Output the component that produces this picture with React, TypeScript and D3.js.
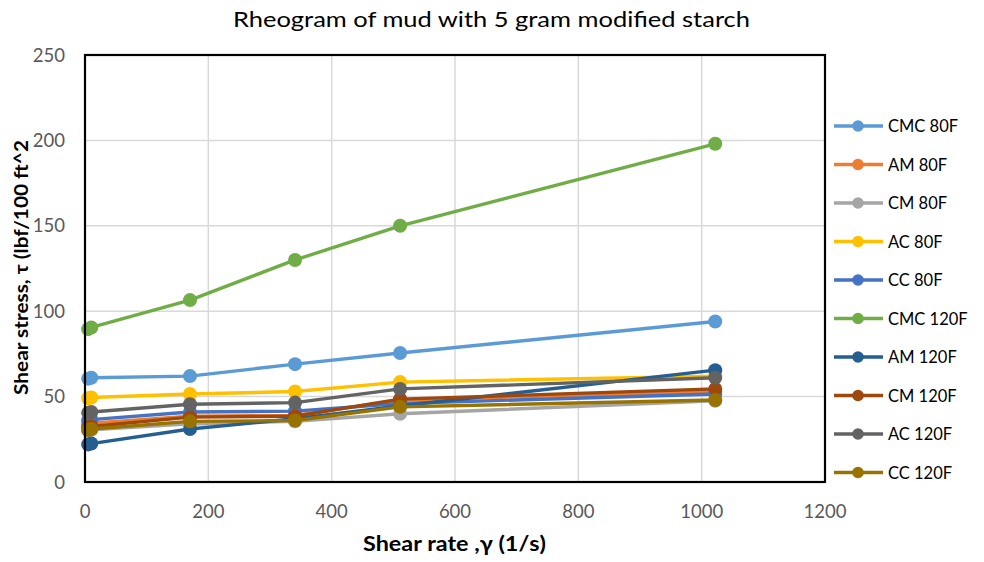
import React from "react";
import * as d3 from "d3";

const shearRates = [5.1, 10.2, 170.3, 340.6, 511, 1022];
const seriesNames = ["CMC 80F", "AM 80F", "CM 80F", "AC 80F", "CC 80F", "CMC 120F", "AM 120F", "CM 120F", "AC 120F", "CC 120F"];
const seriesColors = ["#5B9BD5", "#ED7D31", "#A5A5A5", "#FFC000", "#4472C4", "#70AD47", "#255E91", "#9E480E", "#636363", "#997300"];
const cmc80 = [60.5, 61, 62, 69, 75.5, 94];
const am80 = [34, 34.5, 38.5, 39, 48, 53];
const cm80 = [30, 30.5, 34, 35.5, 40, 47.5];
const ac80 = [49, 49.5, 51.5, 53, 58.5, 62];
const cc80 = [36, 36.5, 41, 41.5, 46, 51.5];
const cmc120 = [89.5, 90.5, 106.5, 130, 150, 198];
const am120 = [22, 22.5, 31, 37, 44.5, 65.5];
const cm120 = [32, 32.5, 38, 38.5, 48.5, 54.5];
const ac120 = [40.5, 41, 45.5, 46.5, 54.5, 61];
const cc120 = [30.5, 31, 35.5, 36, 44, 48];
const seriesValues = [cmc80, am80, cm80, ac80, cc80, cmc120, am120, cm120, ac120, cc120];
const xTicks = [0, 200, 400, 600, 800, 1000, 1200];
const yTicks = [0, 50, 100, 150, 200, 250];

const FONT = "Lato, 'Open Sans', sans-serif";

export default function App() {
  const W = 984, H = 562;
  const left = 85, right = 825, top = 55, bottom = 482;
  const x = d3.scaleLinear().domain([0, 1200]).range([left, right]);
  const y = d3.scaleLinear().domain([0, 250]).range([bottom, top]);
  const line = d3.line<[number, number]>().x(d => x(d[0])).y(d => y(d[1]));

  return (
    <svg width={W} height={H} style={{ position: "absolute", left: 0, top: 0, background: "#fff" }}>
      <rect x={0} y={0} width={W} height={H} fill="#fff" />
      <text x={491.5} y={27} textAnchor="middle" fontFamily={FONT} fontSize={21} fill="#000"
        textLength={517} lengthAdjust="spacingAndGlyphs">
        Rheogram of mud with 5 gram modified starch
      </text>
      {xTicks.map(t => (
        <line key={"gx" + t} x1={x(t)} x2={x(t)} y1={top} y2={bottom} stroke="#d9d9d9" strokeWidth={1.5} />
      ))}
      {yTicks.map(t => (
        <line key={"gy" + t} x1={left} x2={right} y1={y(t)} y2={y(t)} stroke="#d9d9d9" strokeWidth={1.5} />
      ))}
      {seriesValues.map((vals, i) => {
        const pts: [number, number][] = shearRates.map((r, j) => [r, vals[j]]);
        return (
          <g key={seriesNames[i]}>
            <path d={line(pts) || ""} fill="none" stroke={seriesColors[i]} strokeWidth={3.4} strokeLinejoin="round" />
            {pts.map((p, j) => (
              <circle key={j} cx={x(p[0])} cy={y(p[1])} r={7} fill={seriesColors[i]} />
            ))}
          </g>
        );
      })}
      <rect x={left} y={top} width={right - left} height={bottom - top} fill="none" stroke="#000" strokeWidth={2.2} />
      {xTicks.map(t => (
        <text key={"tx" + t} x={x(t)} y={518} textAnchor="middle" fontFamily={FONT} fontSize={18.5} fill="#595959">{t}</text>
      ))}
      {yTicks.map(t => (
        <text key={"ty" + t} x={65} y={y(t) + 6.5} textAnchor="end" fontFamily={FONT} fontSize={18.5} fill="#595959">{t}</text>
      ))}
      <text x={454.5} y={551} textAnchor="middle" fontFamily={FONT} fontSize={20} fontWeight="bold" fill="#000"
        textLength={183} lengthAdjust="spacingAndGlyphs">
        Shear rate ,γ (1/s)
      </text>
      <text transform="translate(28,267.5) rotate(-90)" textAnchor="middle" fontFamily={FONT} fontSize={19} fontWeight="bold" fill="#000"
        textLength={255} lengthAdjust="spacingAndGlyphs">
        Shear stress, τ (lbf/100 ft^2
      </text>
      {seriesNames.map((n, i) => {
        const ly = 126 + i * 38.5;
        return (
          <g key={"lg" + n}>
            <line x1={834} x2={883} y1={ly} y2={ly} stroke={seriesColors[i]} strokeWidth={3.4} />
            <circle cx={858} cy={ly} r={5.8} fill={seriesColors[i]} />
            <text x={888} y={ly + 6} fontFamily={FONT} fontSize={16.5} fill="#000">{n}</text>
          </g>
        );
      })}
    </svg>
  );
}
